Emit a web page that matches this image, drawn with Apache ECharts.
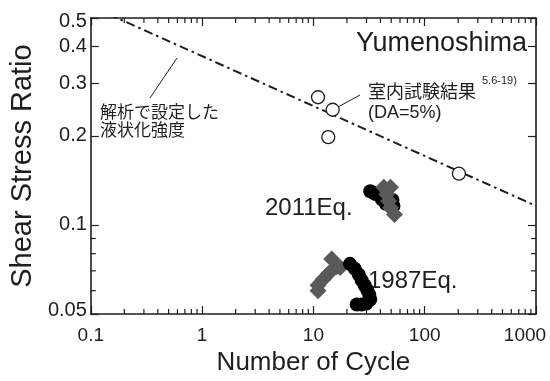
<!DOCTYPE html>
<html>
<head>
<meta charset="utf-8">
<script src="https://cdn.jsdelivr.net/npm/echarts@6.0.0/dist/echarts.min.js"></script>
<style>
  html, body { margin: 0; padding: 0; background: #fff; }
  #chart { width: 550px; height: 381px; }
</style>
</head>
<body>
<div id="chart"></div>
<script>
// Axis ticks
const xTickLabels = [0.1, 1, 10, 100, 1000];
const yTickLabels = [0.05, 0.1, 0.2, 0.3, 0.4, 0.5];
const xMinorTicks = [0.2, 0.3, 0.4, 0.5, 0.6, 0.7, 0.8, 0.9,
                     2, 3, 4, 5, 6, 7, 8, 9,
                     20, 30, 40, 50, 60, 70, 80, 90,
                     200, 300, 400, 500, 600, 700, 800, 900];
const yMinorTicks = [0.06, 0.07, 0.08, 0.09];

// Laboratory test results, DA=5% (cycles, stress ratio)
const labTests = [[11.0, 0.270], [14.9, 0.245], [13.6, 0.198], [203, 0.149]];

// Liquefaction strength curve adopted in the analysis
const strengthCurve = [[0.1, 0.548], [1000, 0.116]];

// Seismic response at Yumenoshima: 2011 earthquake
const eq2011Black = [[32.4, 0.130], [34.5, 0.1285], [36.6, 0.127], [41.2, 0.122], [44.7, 0.118], [51.4, 0.1215], [52.4, 0.116]];
const eq2011Gray  = [[42.9, 0.134], [49.3, 0.134], [45.6, 0.127], [47.4, 0.1206], [49.3, 0.1144], [53.5, 0.1085]];

// Seismic response at Yumenoshima: 1987 earthquake
const eq1987Gray  = [[14.6, 0.0768], [16.1, 0.0723], [17.4, 0.0718], [13.7, 0.0686], [12.2, 0.0655], [11.0, 0.0626], [11.0, 0.0599]];
const eq1987Black = [[21.3, 0.0739], [23.5, 0.0712], [25.5, 0.0681], [27.1, 0.0651], [28.8, 0.0626], [30.5, 0.0603],
                     [31.8, 0.0581], [32.4, 0.0560], [29.9, 0.0543], [27.1, 0.0539], [24.5, 0.0539]];

const INK = '#1e1e1e';
const LATIN = '"Liberation Sans", Arial, sans-serif';
const CJK = '"Noto Sans CJK JP", sans-serif';

const fmt = v => String(+Number(v).toPrecision(6));

const chart = echarts.init(document.getElementById('chart'), null, { renderer: 'canvas' });

// Short inward ticks on the top and bottom frame
function xMinorTick(params, api) {
  const v = api.value(0);
  const b = api.coord([v, 0.05]);
  const t = api.coord([v, 0.5]);
  const st = { stroke: INK, lineWidth: 1.2 };
  return { type: 'group', children: [
    { type: 'line', shape: { x1: b[0], y1: b[1], x2: b[0], y2: b[1] - 5 }, style: st },
    { type: 'line', shape: { x1: t[0], y1: t[1], x2: t[0], y2: t[1] + 5 }, style: st }
  ]};
}
// Short inward ticks on the left and right frame
function yMinorTick(params, api) {
  const v = api.value(1);
  const l = api.coord([0.1, v]);
  const r = api.coord([1000, v]);
  const st = { stroke: INK, lineWidth: 1.2 };
  return { type: 'group', children: [
    { type: 'line', shape: { x1: l[0], y1: l[1], x2: l[0] + 5, y2: l[1] }, style: st },
    { type: 'line', shape: { x1: r[0], y1: r[1], x2: r[0] - 5, y2: r[1] }, style: st }
  ]};
}

const axisLine = { show: true, onZero: false, lineStyle: { color: INK, width: 1.6 } };
const majorTick = { show: true, inside: true, length: 8, lineStyle: { color: INK, width: 1.2 } };

// The frame, its ticks and labels sit on their own layer above the plot
const FRAME_LAYER = 1;

const option = {
  animation: false,
  backgroundColor: '#fff',
  grid: { left: 76, right: 14, top: 18, bottom: 57, containLabel: false },
  xAxis: [
    {
      type: 'log', logBase: 10, min: 0.1, max: 1000, position: 'bottom', zlevel: FRAME_LAYER, z: 10,
      name: 'Number of Cycle', nameLocation: 'middle', nameGap: 30,
      nameTextStyle: { fontFamily: LATIN, fontSize: 26, color: INK },
      axisLine, axisTick: majorTick, splitLine: { show: false },
      axisLabel: {
        fontFamily: LATIN, fontSize: 19, color: INK, margin: 12,
        customValues: xTickLabels,
        formatter: v => (fmt(v) === '1000' ? '{mx|1000}' : fmt(v)),
        rich: { mx: { fontFamily: LATIN, fontSize: 19, color: INK, padding: [0, 22, 0, 0] } }
      }
    },
    {
      type: 'log', logBase: 10, min: 0.1, max: 1000, position: 'top', zlevel: FRAME_LAYER, z: 10,
      axisLine, axisTick: majorTick, splitLine: { show: false }, axisLabel: { show: false }
    }
  ],
  yAxis: [
    {
      type: 'log', logBase: 10, min: 0.05, max: 0.5, position: 'left', zlevel: FRAME_LAYER, z: 10,
      name: 'Shear Stress Ratio', nameLocation: 'middle', nameGap: 42,
      nameTextStyle: { fontFamily: LATIN, fontSize: 29, color: INK },
      axisLine, splitLine: { show: false },
      axisTick: Object.assign({}, majorTick, { customValues: yTickLabels }),
      axisLabel: {
        fontFamily: LATIN, fontSize: 20, color: INK, margin: 4,
        customValues: yTickLabels,
        formatter: v => {
          const s = fmt(v);
          if (s === '0.5') return '{hi|0.5}';
          if (s === '0.05') return '{lo|0.05}';
          return s;
        },
        rich: {
          hi: { fontFamily: LATIN, fontSize: 20, color: INK, padding: [6, 0, 0, 0] },
          lo: { fontFamily: LATIN, fontSize: 20, color: INK, padding: [0, 0, 7, 0] }
        }
      }
    },
    {
      type: 'log', logBase: 10, min: 0.05, max: 0.5, position: 'right', zlevel: FRAME_LAYER, z: 10,
      axisLine, splitLine: { show: false }, axisLabel: { show: false },
      axisTick: Object.assign({}, majorTick, { customValues: yTickLabels })
    }
  ],
  series: [
    { type: 'custom', renderItem: xMinorTick, data: xMinorTicks.map(v => [v, 0.1]), clip: false, silent: true,
      zlevel: FRAME_LAYER, z: 10 },
    { type: 'custom', renderItem: yMinorTick, data: yMinorTicks.map(v => [1, v]), clip: false, silent: true,
      zlevel: FRAME_LAYER, z: 10 },
    {
      name: 'strength', type: 'line', data: strengthCurve, symbol: 'none', clip: true, z: 2,
      lineStyle: { color: INK, width: 2, type: [9, 4, 2.5, 4] }
    },
    {
      name: 'lab', type: 'scatter', data: labTests, symbol: 'circle', symbolSize: 13, z: 3,
      itemStyle: { color: '#fff', borderColor: INK, borderWidth: 1.3, opacity: 1 }
    },
    {
      name: '2011 black', type: 'scatter', data: eq2011Black, symbol: 'circle', symbolSize: 14, z: 4,
      itemStyle: { color: '#000', opacity: 1 }
    },
    {
      name: '2011 gray', type: 'scatter', data: eq2011Gray, symbol: 'rect', symbolSize: 12, symbolRotate: 45, z: 4,
      itemStyle: { color: '#595959', opacity: 1 }
    },
    {
      name: '1987 gray', type: 'scatter', data: eq1987Gray, symbol: 'rect', symbolSize: 12, symbolRotate: 45, z: 4,
      itemStyle: { color: '#595959', opacity: 1 }
    },
    {
      name: '1987 black', type: 'scatter', data: eq1987Black, symbol: 'circle', symbolSize: 14, z: 4,
      itemStyle: { color: '#000', opacity: 1 }
    }
  ],
  graphic: [
    { type: 'text', right: 23, top: 30, style: { text: 'Yumenoshima', font: '27px ' + LATIN, fill: INK } },
    { type: 'line', shape: { x1: 150, y1: 98, x2: 177, y2: 58 }, style: { stroke: INK, lineWidth: 1 } },
    { type: 'text', left: 100, top: 103, style: { text: '解析で設定した', font: '17px ' + CJK, fill: INK } },
    { type: 'text', left: 100, top: 121, style: { text: '液状化強度', font: '17px ' + CJK, fill: INK } },
    { type: 'line', shape: { x1: 338, y1: 107, x2: 360, y2: 95 }, style: { stroke: INK, lineWidth: 1 } },
    { type: 'text', left: 368, top: 82, style: { text: '室内試験結果', font: '18px ' + CJK, fill: INK } },
    { type: 'text', left: 482, top: 75, style: { text: '5.6-19)', font: '11px ' + LATIN, fill: INK } },
    { type: 'text', left: 368, top: 104, style: { text: '(DA=5%)', font: '18px ' + LATIN, fill: INK } },
    { type: 'text', left: 265, top: 196, style: { text: '2011Eq.', font: '24px ' + LATIN, fill: INK } },
    { type: 'text', left: 368, top: 269, style: { text: '1987Eq.', font: '24px ' + LATIN, fill: INK } }
  ]
};

chart.setOption(option);
</script>
</body>
</html>
